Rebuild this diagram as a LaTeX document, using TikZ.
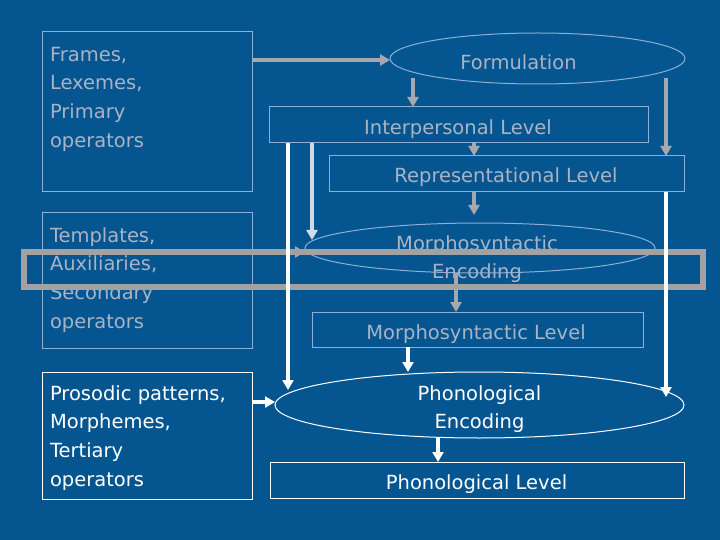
\documentclass[tikz,border=0pt]{standalone}
\usepackage{fontspec}
\setmainfont{DejaVu Sans}
\usetikzlibrary{arrows.meta,shapes.geometric}
\definecolor{bg}{RGB}{5,85,145}
\definecolor{dimtext}{RGB}{168,180,196}
\definecolor{dimline}{RGB}{140,176,212}
\definecolor{arrgray}{RGB}{166,168,174}
\definecolor{lightarr}{RGB}{212,218,228}
\definecolor{bandgray}{RGB}{162,162,162}
\begin{document}
\begin{tikzpicture}[x=1pt,y=-1pt,
  every node/.style={font=\fontsize{19.5}{28.7}\selectfont, inner sep=0pt, outer sep=0pt},
  dimbox/.style={draw=dimline, line width=1pt, rectangle},
  whitebox/.style={draw=white, line width=1pt, rectangle},
  dimell/.style={draw=dimline, line width=1pt, ellipse},
  whiteell/.style={draw=white, line width=1pt, ellipse},
  dimlabel/.style={text=dimtext},
  whitelabel/.style={text=white},
  garrow/.style={draw=arrgray, line width=4pt, -{Triangle[width=11pt,length=10pt]}},
  larrow/.style={draw=lightarr, line width=4pt, -{Triangle[width=11pt,length=10pt]}},
  warrow/.style={draw=white, line width=4pt, -{Triangle[width=11pt,length=10pt]}},
  bandbox/.style={draw=bandgray, line width=6pt, rectangle}
]
\useasboundingbox (0,0) rectangle (720,540);
\fill[bg] (0,0) rectangle (720,540);

% left boxes
\node[dimbox, minimum width=210pt, minimum height=160pt] (b1) at (147,112) {};
\node[dimbox, minimum width=210pt, minimum height=135pt] (b2) at (147,280.5) {};
\node[whitebox, minimum width=210pt, minimum height=127pt] (b3) at (147,435.5) {};
\node[dimlabel, align=left, anchor=north west] (b1t) at (50,46.8) {Frames,\\Lexemes,\\Primary\\operators};
\node[dimlabel, align=left, anchor=north west] (b2t) at (50,227.2) {Templates,\\Auxiliaries,\\Secondary\\operators};
\node[whitelabel, align=left, anchor=north west] (b3t) at (50,385.2) {Prosodic patterns,\\Morphemes,\\Tertiary\\operators};

% right column shapes
\node[dimell, minimum width=295pt, minimum height=51pt] (form) at (537.5,58.5) {};
\node[dimbox, minimum width=379pt, minimum height=36pt] (inter) at (458.5,125) {};
\node[dimbox, minimum width=355pt, minimum height=36pt] (rep) at (506.5,174) {};
\node[dimell, minimum width=350pt, minimum height=50pt] (menc) at (480,248) {};
\node[dimbox, minimum width=331pt, minimum height=35pt] (mlev) at (477.5,329.5) {};
\node[whiteell, minimum width=409pt, minimum height=66pt] (phon) at (479.5,405) {};
\node[whitebox, minimum width=414pt, minimum height=36pt] (plev) at (477,480) {};

% labels
\node[dimlabel, anchor=base] (formt) at (518.5,70) {Formulation};
\node[dimlabel, anchor=base] (intert) at (458,135) {Interpersonal Level};
\node[dimlabel, anchor=base] (rept) at (506,183) {Representational Level};
\node[dimlabel, align=center, anchor=north] (menct) at (477,235.2) {Morphosyntactic\\Encoding};
\node[dimlabel, anchor=base] (mlevt) at (476,339) {Morphosyntactic Level};
\node[whitelabel, align=center, anchor=north] (phont) at (479.5,385.2) {Phonological\\Encoding};
\node[whitelabel, anchor=base] (plevt) at (476.5,489) {Phonological Level};

% column coordinates
\coordinate (x413) at (413,78);
\coordinate (x474) at (474,0);
\coordinate (x666) at (666,78);
\coordinate (x312) at (312,0);
\coordinate (x288) at (288,0);
\coordinate (x456) at (456,0);
\coordinate (x408) at (408,0);
\coordinate (x438) at (438,0);
\coordinate (y252) at (0,252);
\coordinate (y402) at (0,402);
\coordinate (menctip) at (474,215);
\coordinate (mlight) at (312,240);
\coordinate (ptipl) at (288,390);
\coordinate (ptipr) at (666,397);

% gray arrows
\draw[garrow] (b1.east |- 0,60) -- (form.west |- 0,60);
\draw[garrow] (x413) -- (x413 |- inter.north);
\draw[garrow] (inter.south -| x474) -- (rep.north -| x474);
\draw[garrow] (x666) -- (x666 |- rep.north);
\draw[garrow] (rep.south -| x474) -- (menctip);
\draw[garrow] (menc.south -| x456) -- (mlev.north -| x456);
\draw[larrow] (inter.south -| x312) -- (mlight);
\draw[garrow] (b2.east |- y252) -- (menc.west |- y252);

% highlight band
\node[bandbox, minimum width=679pt, minimum height=35pt] (hl) at (363.5,269.5) {};

% white arrows
\draw[warrow] (inter.south -| x288) -- (ptipl);
\draw[warrow] (rep.south -| x666) -- (ptipr);
\draw[warrow] (mlev.south -| x408) -- (phon.north -| x408);
\draw[warrow] (b3.east |- y402) -- (phon.west |- y402);
\draw[warrow] (phon.south -| x438) -- (plev.north -| x438);
\end{tikzpicture}
\end{document}
